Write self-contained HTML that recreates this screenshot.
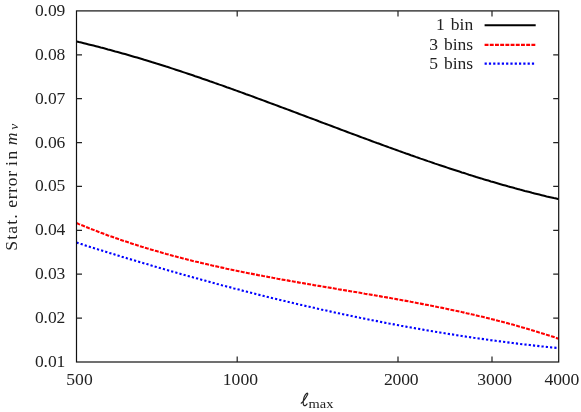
<!DOCTYPE html><html><head><meta charset="utf-8"><style>html,body{margin:0;padding:0;background:#fff}svg{display:block;will-change:transform}text{font-family:"Liberation Serif",serif;fill:#222}</style></head><body>
<svg width="581" height="412" viewBox="0 0 581 412">
<rect width="581" height="412" fill="#fff"/>
<path d="M76.5,41.5 L78.9,42.1 L81.3,42.6 L83.8,43.2 L86.2,43.8 L88.6,44.4 L91.0,45.0 L93.5,45.6 L95.9,46.2 L98.3,46.8 L100.7,47.5 L103.2,48.1 L105.6,48.7 L108.0,49.4 L110.4,50.0 L112.8,50.7 L115.3,51.4 L117.7,52.0 L120.1,52.7 L122.5,53.4 L125.0,54.1 L127.4,54.8 L129.8,55.5 L132.2,56.2 L134.7,56.9 L137.1,57.6 L139.5,58.3 L141.9,59.0 L144.3,59.8 L146.8,60.5 L149.2,61.2 L151.6,62.0 L154.0,62.7 L156.5,63.5 L158.9,64.2 L161.3,65.0 L163.7,65.8 L166.2,66.6 L168.6,67.3 L171.0,68.1 L173.4,68.9 L175.8,69.7 L178.3,70.5 L180.7,71.3 L183.1,72.1 L185.5,72.9 L188.0,73.7 L190.4,74.5 L192.8,75.3 L195.2,76.2 L197.7,77.0 L200.1,77.8 L202.5,78.7 L204.9,79.5 L207.3,80.3 L209.8,81.2 L212.2,82.0 L214.6,82.9 L217.0,83.7 L219.5,84.6 L221.9,85.4 L224.3,86.3 L226.7,87.2 L229.2,88.0 L231.6,88.9 L234.0,89.8 L236.4,90.6 L238.8,91.5 L241.3,92.4 L243.7,93.3 L246.1,94.2 L248.5,95.0 L251.0,95.9 L253.4,96.8 L255.8,97.7 L258.2,98.6 L260.7,99.5 L263.1,100.4 L265.5,101.3 L267.9,102.2 L270.3,103.1 L272.8,104.0 L275.2,104.9 L277.6,105.8 L280.0,106.7 L282.5,107.6 L284.9,108.5 L287.3,109.4 L289.7,110.3 L292.2,111.2 L294.6,112.1 L297.0,113.0 L299.4,114.0 L301.8,114.9 L304.3,115.8 L306.7,116.7 L309.1,117.6 L311.5,118.5 L314.0,119.4 L316.4,120.3 L318.8,121.3 L321.2,122.2 L323.7,123.1 L326.1,124.0 L328.5,124.9 L330.9,125.8 L333.4,126.7 L335.8,127.6 L338.2,128.5 L340.6,129.5 L343.0,130.4 L345.5,131.3 L347.9,132.2 L350.3,133.1 L352.7,134.0 L355.2,134.9 L357.6,135.8 L360.0,136.7 L362.4,137.6 L364.9,138.5 L367.3,139.4 L369.7,140.3 L372.1,141.2 L374.5,142.1 L377.0,143.0 L379.4,143.8 L381.8,144.7 L384.2,145.6 L386.7,146.5 L389.1,147.4 L391.5,148.2 L393.9,149.1 L396.4,150.0 L398.8,150.9 L401.2,151.7 L403.6,152.6 L406.0,153.5 L408.5,154.3 L410.9,155.2 L413.3,156.0 L415.7,156.9 L418.2,157.7 L420.6,158.6 L423.0,159.4 L425.4,160.2 L427.9,161.1 L430.3,161.9 L432.7,162.7 L435.1,163.6 L437.5,164.4 L440.0,165.2 L442.4,166.0 L444.8,166.8 L447.2,167.6 L449.7,168.4 L452.1,169.2 L454.5,170.0 L456.9,170.8 L459.4,171.6 L461.8,172.4 L464.2,173.1 L466.6,173.9 L469.0,174.7 L471.5,175.4 L473.9,176.2 L476.3,177.0 L478.7,177.7 L481.2,178.4 L483.6,179.2 L486.0,179.9 L488.4,180.6 L490.9,181.4 L493.3,182.1 L495.7,182.8 L498.1,183.5 L500.5,184.2 L503.0,184.9 L505.4,185.6 L507.8,186.3 L510.2,186.9 L512.7,187.6 L515.1,188.3 L517.5,188.9 L519.9,189.6 L522.4,190.2 L524.8,190.9 L527.2,191.5 L529.6,192.1 L532.0,192.8 L534.5,193.4 L536.9,194.0 L539.3,194.6 L541.7,195.2 L544.2,195.8 L546.6,196.4 L549.0,196.9 L551.4,197.5 L553.9,198.1 L556.3,198.6 L558.7,199.2" fill="none" stroke="#000" stroke-width="2.05"/>
<path d="M76.5,223.0 L78.9,224.1 L81.3,225.1 L83.8,226.0 L86.2,227.0 L88.6,228.0 L91.0,228.9 L93.5,229.9 L95.9,230.8 L98.3,231.8 L100.7,232.7 L103.2,233.6 L105.6,234.5 L108.0,235.4 L110.4,236.2 L112.8,237.1 L115.3,238.0 L117.7,238.8 L120.1,239.6 L122.5,240.5 L125.0,241.3 L127.4,242.1 L129.8,242.9 L132.2,243.7 L134.7,244.5 L137.1,245.2 L139.5,246.0 L141.9,246.8 L144.3,247.5 L146.8,248.3 L149.2,249.0 L151.6,249.7 L154.0,250.4 L156.5,251.1 L158.9,251.8 L161.3,252.5 L163.7,253.2 L166.2,253.9 L168.6,254.5 L171.0,255.2 L173.4,255.9 L175.8,256.5 L178.3,257.2 L180.7,257.8 L183.1,258.4 L185.5,259.0 L188.0,259.7 L190.4,260.3 L192.8,260.9 L195.2,261.5 L197.7,262.0 L200.1,262.6 L202.5,263.2 L204.9,263.8 L207.3,264.3 L209.8,264.9 L212.2,265.5 L214.6,266.0 L217.0,266.5 L219.5,267.1 L221.9,267.6 L224.3,268.1 L226.7,268.7 L229.2,269.2 L231.6,269.7 L234.0,270.2 L236.4,270.7 L238.8,271.2 L241.3,271.7 L243.7,272.2 L246.1,272.7 L248.5,273.2 L251.0,273.6 L253.4,274.1 L255.8,274.6 L258.2,275.1 L260.7,275.5 L263.1,276.0 L265.5,276.4 L267.9,276.9 L270.3,277.3 L272.8,277.8 L275.2,278.2 L277.6,278.7 L280.0,279.1 L282.5,279.6 L284.9,280.0 L287.3,280.4 L289.7,280.9 L292.2,281.3 L294.6,281.7 L297.0,282.1 L299.4,282.6 L301.8,283.0 L304.3,283.4 L306.7,283.8 L309.1,284.2 L311.5,284.6 L314.0,285.1 L316.4,285.5 L318.8,285.9 L321.2,286.3 L323.7,286.7 L326.1,287.1 L328.5,287.5 L330.9,287.9 L333.4,288.3 L335.8,288.7 L338.2,289.2 L340.6,289.6 L343.0,290.0 L345.5,290.4 L347.9,290.8 L350.3,291.2 L352.7,291.6 L355.2,292.0 L357.6,292.4 L360.0,292.8 L362.4,293.2 L364.9,293.7 L367.3,294.1 L369.7,294.5 L372.1,294.9 L374.5,295.3 L377.0,295.7 L379.4,296.1 L381.8,296.6 L384.2,297.0 L386.7,297.4 L389.1,297.8 L391.5,298.3 L393.9,298.7 L396.4,299.1 L398.8,299.6 L401.2,300.0 L403.6,300.5 L406.0,300.9 L408.5,301.3 L410.9,301.8 L413.3,302.2 L415.7,302.7 L418.2,303.2 L420.6,303.6 L423.0,304.1 L425.4,304.6 L427.9,305.0 L430.3,305.5 L432.7,306.0 L435.1,306.5 L437.5,307.0 L440.0,307.4 L442.4,307.9 L444.8,308.4 L447.2,308.9 L449.7,309.5 L452.1,310.0 L454.5,310.5 L456.9,311.0 L459.4,311.5 L461.8,312.1 L464.2,312.6 L466.6,313.2 L469.0,313.7 L471.5,314.3 L473.9,314.8 L476.3,315.4 L478.7,316.0 L481.2,316.5 L483.6,317.1 L486.0,317.7 L488.4,318.3 L490.9,318.9 L493.3,319.5 L495.7,320.1 L498.1,320.8 L500.5,321.4 L503.0,322.0 L505.4,322.7 L507.8,323.3 L510.2,324.0 L512.7,324.6 L515.1,325.3 L517.5,326.0 L519.9,326.7 L522.4,327.4 L524.8,328.1 L527.2,328.8 L529.6,329.5 L532.0,330.2 L534.5,331.0 L536.9,331.7 L539.3,332.5 L541.7,333.2 L544.2,334.0 L546.6,334.8 L549.0,335.5 L551.4,336.3 L553.9,337.1 L556.3,337.9 L558.7,338.8" fill="none" stroke="#f00" stroke-width="2.1" stroke-dasharray="3.9 1.3"/>
<path d="M76.5,242.6 L78.9,243.4 L81.3,244.1 L83.8,244.9 L86.2,245.7 L88.6,246.4 L91.0,247.2 L93.5,247.9 L95.9,248.7 L98.3,249.5 L100.7,250.2 L103.2,251.0 L105.6,251.7 L108.0,252.5 L110.4,253.2 L112.8,253.9 L115.3,254.7 L117.7,255.4 L120.1,256.2 L122.5,256.9 L125.0,257.6 L127.4,258.4 L129.8,259.1 L132.2,259.8 L134.7,260.5 L137.1,261.3 L139.5,262.0 L141.9,262.7 L144.3,263.4 L146.8,264.1 L149.2,264.8 L151.6,265.6 L154.0,266.3 L156.5,267.0 L158.9,267.7 L161.3,268.4 L163.7,269.1 L166.2,269.8 L168.6,270.5 L171.0,271.2 L173.4,271.8 L175.8,272.5 L178.3,273.2 L180.7,273.9 L183.1,274.6 L185.5,275.3 L188.0,275.9 L190.4,276.6 L192.8,277.3 L195.2,278.0 L197.7,278.6 L200.1,279.3 L202.5,280.0 L204.9,280.6 L207.3,281.3 L209.8,281.9 L212.2,282.6 L214.6,283.2 L217.0,283.9 L219.5,284.5 L221.9,285.2 L224.3,285.8 L226.7,286.5 L229.2,287.1 L231.6,287.7 L234.0,288.4 L236.4,289.0 L238.8,289.6 L241.3,290.3 L243.7,290.9 L246.1,291.5 L248.5,292.1 L251.0,292.7 L253.4,293.3 L255.8,294.0 L258.2,294.6 L260.7,295.2 L263.1,295.8 L265.5,296.4 L267.9,297.0 L270.3,297.6 L272.8,298.2 L275.2,298.7 L277.6,299.3 L280.0,299.9 L282.5,300.5 L284.9,301.1 L287.3,301.7 L289.7,302.2 L292.2,302.8 L294.6,303.4 L297.0,303.9 L299.4,304.5 L301.8,305.1 L304.3,305.6 L306.7,306.2 L309.1,306.7 L311.5,307.3 L314.0,307.8 L316.4,308.4 L318.8,308.9 L321.2,309.5 L323.7,310.0 L326.1,310.5 L328.5,311.1 L330.9,311.6 L333.4,312.1 L335.8,312.7 L338.2,313.2 L340.6,313.7 L343.0,314.2 L345.5,314.7 L347.9,315.2 L350.3,315.7 L352.7,316.3 L355.2,316.8 L357.6,317.3 L360.0,317.8 L362.4,318.2 L364.9,318.7 L367.3,319.2 L369.7,319.7 L372.1,320.2 L374.5,320.7 L377.0,321.1 L379.4,321.6 L381.8,322.1 L384.2,322.6 L386.7,323.0 L389.1,323.5 L391.5,323.9 L393.9,324.4 L396.4,324.9 L398.8,325.3 L401.2,325.8 L403.6,326.2 L406.0,326.6 L408.5,327.1 L410.9,327.5 L413.3,327.9 L415.7,328.4 L418.2,328.8 L420.6,329.2 L423.0,329.6 L425.4,330.1 L427.9,330.5 L430.3,330.9 L432.7,331.3 L435.1,331.7 L437.5,332.1 L440.0,332.5 L442.4,332.9 L444.8,333.3 L447.2,333.7 L449.7,334.1 L452.1,334.4 L454.5,334.8 L456.9,335.2 L459.4,335.6 L461.8,336.0 L464.2,336.3 L466.6,336.7 L469.0,337.0 L471.5,337.4 L473.9,337.8 L476.3,338.1 L478.7,338.5 L481.2,338.8 L483.6,339.1 L486.0,339.5 L488.4,339.8 L490.9,340.2 L493.3,340.5 L495.7,340.8 L498.1,341.1 L500.5,341.4 L503.0,341.8 L505.4,342.1 L507.8,342.4 L510.2,342.7 L512.7,343.0 L515.1,343.3 L517.5,343.6 L519.9,343.9 L522.4,344.2 L524.8,344.5 L527.2,344.7 L529.6,345.0 L532.0,345.3 L534.5,345.6 L536.9,345.8 L539.3,346.1 L541.7,346.4 L544.2,346.6 L546.6,346.9 L549.0,347.1 L551.4,347.4 L553.9,347.6 L556.3,347.9 L558.7,348.1" fill="none" stroke="#00f" stroke-width="2.1" stroke-dasharray="2.2 2.1"/>
<path d="M484.6,25.3H535.7" stroke="#000" stroke-width="2.05"/>
<path d="M484.6,44.9H535.7" stroke="#f00" stroke-width="2.2" stroke-dasharray="3.9 1.3"/>
<path d="M484.6,63.7H535.7" stroke="#00f" stroke-width="2.2" stroke-dasharray="2.2 2.1"/>
<rect x="76.5" y="10.9" width="482.20000000000005" height="351.1" fill="none" stroke="#111" stroke-width="1.2"/>
<path d="M76.5,318.1h5.5 M558.7,318.1h-5.5 M76.5,274.2h5.5 M558.7,274.2h-5.5 M76.5,230.3h5.5 M558.7,230.3h-5.5 M76.5,186.4h5.5 M558.7,186.4h-5.5 M76.5,142.6h5.5 M558.7,142.6h-5.5 M76.5,98.7h5.5 M558.7,98.7h-5.5 M76.5,54.8h5.5 M558.7,54.8h-5.5 M237.2,362.0v-5.5 M237.2,10.9v5.5 M398.0,362.0v-5.5 M398.0,10.9v5.5 M492.0,362.0v-5.5 M492.0,10.9v5.5" stroke="#222" stroke-width="1.2" fill="none"/>
<text x="34.9" y="367.0" font-size="17.5" textLength="30.4" lengthAdjust="spacing">0.01</text>
<text x="34.9" y="323.1" font-size="17.5" textLength="30.4" lengthAdjust="spacing">0.02</text>
<text x="34.9" y="279.2" font-size="17.5" textLength="30.4" lengthAdjust="spacing">0.03</text>
<text x="34.9" y="235.3" font-size="17.5" textLength="30.4" lengthAdjust="spacing">0.04</text>
<text x="34.9" y="191.4" font-size="17.5" textLength="30.4" lengthAdjust="spacing">0.05</text>
<text x="34.9" y="147.6" font-size="17.5" textLength="30.4" lengthAdjust="spacing">0.06</text>
<text x="34.9" y="103.7" font-size="17.5" textLength="30.4" lengthAdjust="spacing">0.07</text>
<text x="34.9" y="59.8" font-size="17.5" textLength="30.4" lengthAdjust="spacing">0.08</text>
<text x="34.9" y="15.9" font-size="17.5" textLength="30.4" lengthAdjust="spacing">0.09</text>
<text x="66.3" y="385.2" font-size="17.6" textLength="26.4" lengthAdjust="spacing">500</text>
<text x="222.8" y="385.2" font-size="17.6" textLength="35.2" lengthAdjust="spacing">1000</text>
<text x="384.0" y="385.2" font-size="17.6" textLength="34.6" lengthAdjust="spacing">2000</text>
<text x="477.3" y="385.2" font-size="17.6" textLength="34.8" lengthAdjust="spacing">3000</text>
<text x="544.6" y="385.2" font-size="17.6" textLength="34.6" lengthAdjust="spacing">4000</text>
<text x="473.2" y="30.4" font-size="17.5" text-anchor="end" word-spacing="1.7">1 bin</text>
<text x="473.2" y="49.8" font-size="17.5" text-anchor="end" word-spacing="1.7">3 bins</text>
<text x="473.2" y="69" font-size="17.5" text-anchor="end" word-spacing="1.7">5 bins</text>
<g transform="translate(16.8,0) rotate(-90)" font-size="17.6"><text x="-250.8" y="0" textLength="36.4" lengthAdjust="spacing">Stat.</text><text x="-207.8" y="0" textLength="37" lengthAdjust="spacing">error</text><text x="-166" y="0" textLength="15.4" lengthAdjust="spacing">in</text><text x="-145.2" y="0" font-style="italic">m</text><text x="-129.8" y="1.2" font-style="italic" font-size="13.5">ν</text></g>
<path d="M301.2,403.2 C303.5,401.6 306,397.6 307.5,394.8 C308.2,393.4 307.5,392.7 306.5,393.5 C304.5,395.2 303.3,399.5 303.2,403 C303.2,405.2 304.2,405.9 305.3,405.6 C306,405.4 306.6,404.7 307.1,403.9" fill="none" stroke="#222" stroke-width="1.15" stroke-linecap="round"/>
<text x="308.6" y="407.9" font-size="12.8" textLength="24.8" lengthAdjust="spacingAndGlyphs" fill="#2a2a2a">max</text>
</svg></body></html>
